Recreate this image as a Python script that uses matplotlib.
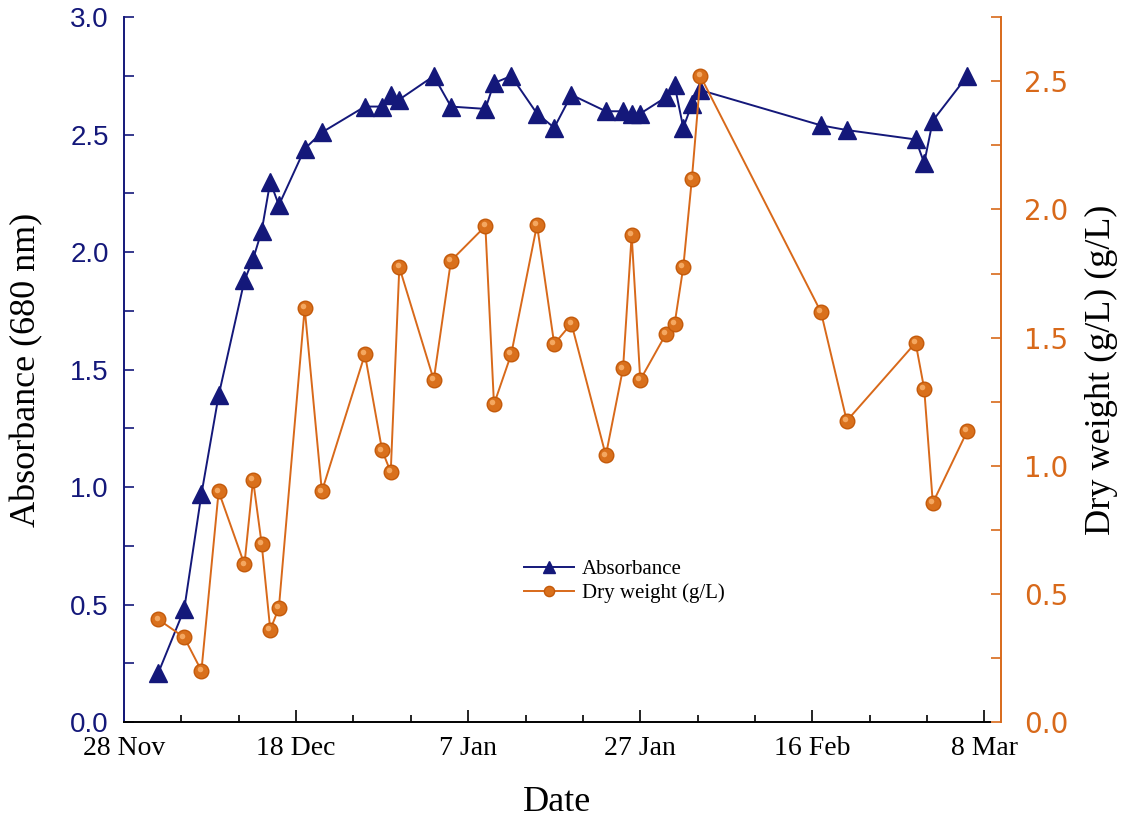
import matplotlib
matplotlib.use('Agg')
import matplotlib.pyplot as plt
import matplotlib.transforms as mtransforms
from matplotlib.ticker import MultipleLocator, FixedLocator

# sampling days counted from 28 Nov
days = [4, 7, 9, 11, 14, 15, 16, 17, 18, 21, 23, 28, 30, 31, 32, 36, 38, 42, 43,
        45, 48, 50, 52, 56, 58, 59, 60, 63, 64, 65, 66, 67, 81, 84, 92, 93, 94, 98]
absorbance = [0.21, 0.48, 0.97, 1.39, 1.88, 1.97, 2.09, 2.30, 2.20, 2.44, 2.51, 2.62,
              2.62, 2.67, 2.65, 2.75, 2.62, 2.61, 2.72, 2.75, 2.59, 2.53, 2.67, 2.60,
              2.60, 2.59, 2.59, 2.66, 2.71, 2.53, 2.63, 2.69, 2.54, 2.52, 2.48, 2.38,
              2.56, 2.75]
dry_weight = [0.40, 0.33, 0.20, 0.90, 0.615, 0.945, 0.695, 0.36, 0.445, 1.615, 0.90,
              1.435, 1.06, 0.975, 1.775, 1.335, 1.80, 1.935, 1.24, 1.435, 1.94, 1.475,
              1.555, 1.04, 1.38, 1.90, 1.335, 1.515, 1.555, 1.775, 2.12, 2.52, 1.60,
              1.175, 1.48, 1.30, 0.855, 1.135]
tick_days = [0, 20, 40, 60, 80, 100]
tick_labels = ['28 Nov', '18 Dec', '7 Jan', '27 Jan', '16 Feb', '8 Mar']

navy = '#14187a'
orange = '#d8691a'
serif = 'Liberation Serif'
sans = 'Liberation Sans'

fig = plt.figure(figsize=(11.22, 8.24), dpi=100)
ax = fig.add_axes([0.1105, 0.1238, 0.7715, 0.8552])
ax2 = ax.twinx()

# absorbance on the left axis
l1, = ax.plot(days, absorbance, color=navy, lw=1.4, marker='^', ms=13,
              mfc=navy, mec=navy, label='Absorbance', zorder=3)

# dry weight on the right axis, with a small highlight to mimic the shaded balls
l2, = ax2.plot(days, dry_weight, color=orange, lw=1.4, marker='o', ms=10.5,
               mfc='#d9701c', mec='#c45a0a', mew=1, label='Dry weight (g/L)')
shine = mtransforms.offset_copy(ax2.transData, fig=fig, x=-1.3, y=1.3, units='points')
ax2.plot(days, dry_weight, ls='none', marker='o', ms=4, mfc='#f4a760', mec='none',
         transform=shine)

ax.set_xlim(0, 100.6)
ax.set_ylim(0, 3.0)
ax2.set_ylim(0, 2.75)

ax.xaxis.set_major_locator(FixedLocator(tick_days))
ax.xaxis.set_minor_locator(MultipleLocator(20 / 3))
ax.set_xticklabels(tick_labels, fontfamily=serif, fontsize=20)
ax.yaxis.set_major_locator(MultipleLocator(0.5))
ax.yaxis.set_minor_locator(MultipleLocator(0.25))
ax2.yaxis.set_major_locator(MultipleLocator(0.5))
ax2.yaxis.set_minor_locator(MultipleLocator(0.25))

ax.tick_params(axis='x', which='major', direction='in', length=9, width=1.2,
               color='black', pad=10)
ax.tick_params(axis='x', which='minor', direction='in', length=5, width=1.2, color='black')
ax.tick_params(axis='y', which='major', direction='in', length=7, width=1.2,
               color=navy, labelcolor=navy, labelsize=20, pad=11)
ax.tick_params(axis='y', which='minor', direction='in', length=7, width=1.2, color=navy)
ax2.tick_params(axis='y', which='major', direction='in', length=7, width=1.2,
                color=orange, labelcolor=orange, labelsize=20, pad=17)
ax2.tick_params(axis='y', which='minor', direction='in', length=7, width=1.2, color=orange)
for lab in ax.get_yticklabels() + ax2.get_yticklabels():
    lab.set_fontfamily(sans)

for a in (ax, ax2):
    a.spines['top'].set_visible(False)
ax.spines['right'].set_visible(False)
ax2.spines['left'].set_visible(False)
ax2.spines['bottom'].set_visible(False)
ax.spines['left'].set_color(navy)
ax.spines['left'].set_linewidth(1.4)
ax.spines['bottom'].set_linewidth(1.4)
ax2.spines['right'].set_color(orange)
ax2.spines['right'].set_linewidth(1.4)
ax2.spines['right'].set_position(('outward', 8))

ax.set_xlabel('Date', fontfamily=serif, fontsize=26, labelpad=18)
ax.set_ylabel('Absorbance (680 nm)', fontfamily=serif, fontsize=26, labelpad=19)
ax2.set_ylabel('Dry weight (g/L) (g/L)', fontfamily=serif, fontsize=26,
               rotation=90, labelpad=12)

ax2.legend(handles=[l1, l2], loc='center left', bbox_to_anchor=(0.44, 0.2),
           frameon=False, prop={'family': serif, 'size': 15}, handlelength=2.4,
           handletextpad=0.4, labelspacing=0.2, markerscale=0.7)

fig.savefig('out.png', dpi=100)
